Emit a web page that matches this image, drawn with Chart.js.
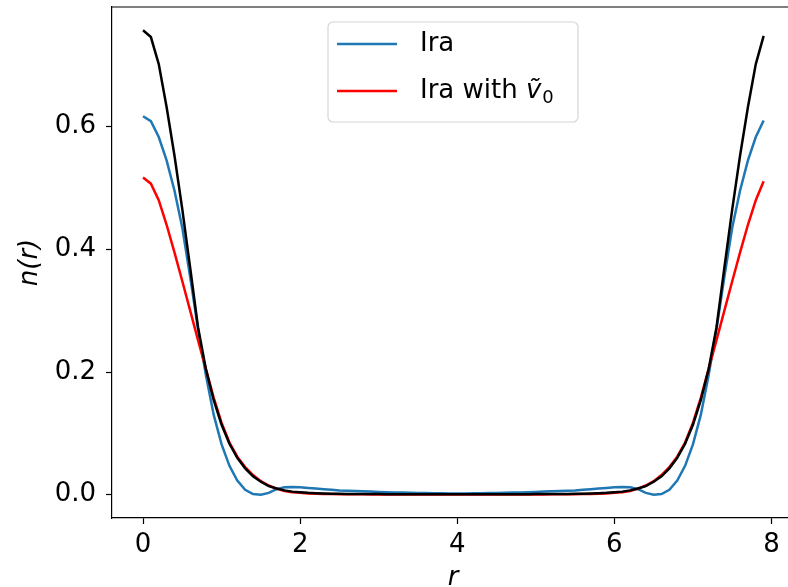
<!DOCTYPE html>
<html>
<head>
<meta charset="utf-8">
<script src="https://cdn.jsdelivr.net/npm/chart.js@4/dist/chart.umd.min.js"></script>
<style>
    html, body { margin: 0; padding: 0; background: #fff; }
    #chart { display: block; }
</style>
</head>
<body>
<canvas id="chart" width="788" height="587"></canvas>
<script>
// radial grid (x axis)
const r = [
    0.0, 0.1, 0.2, 0.3, 0.4, 0.5, 0.6, 0.7, 0.8, 0.9,
    1.0, 1.1, 1.2, 1.3, 1.4, 1.5, 1.6, 1.7, 1.8, 1.9,
    2.0, 2.1, 2.2, 2.3, 2.4, 2.5, 2.6, 2.7, 2.8, 2.9,
    3.0, 3.1, 3.2, 3.3, 3.4, 3.5, 3.6, 3.7, 3.8, 3.9,
    4.0, 4.1, 4.2, 4.3, 4.4, 4.5, 4.6, 4.7, 4.8, 4.9,
    5.0, 5.1, 5.2, 5.3, 5.4, 5.5, 5.6, 5.7, 5.8, 5.9,
    6.0, 6.1, 6.2, 6.3, 6.4, 6.5, 6.6, 6.7, 6.8, 6.9,
    7.0, 7.1, 7.2, 7.3, 7.4, 7.5, 7.6, 7.7, 7.8, 7.9
];

// n(r) for "Ira"
const nIra = [
    0.617, 0.609, 0.583, 0.545, 0.496, 0.435, 0.355, 0.270, 0.195, 0.130,
    0.082, 0.047, 0.023, 0.008, 0.001, 0.000, 0.003, 0.009, 0.012, 0.0125,
    0.012, 0.011, 0.010, 0.009, 0.008, 0.007, 0.0065, 0.006, 0.0055, 0.005,
    0.0045, 0.004, 0.0037, 0.0034, 0.0031, 0.0028, 0.0026, 0.0024, 0.0022, 0.0021,
    0.002, 0.0021, 0.0022, 0.0024, 0.0026, 0.0028, 0.0031, 0.0034, 0.0037, 0.004,
    0.0045, 0.005, 0.0055, 0.006, 0.0065, 0.007, 0.008, 0.009, 0.010, 0.011,
    0.012, 0.0125, 0.012, 0.009, 0.003, 0.000, 0.001, 0.008, 0.023, 0.047,
    0.082, 0.130, 0.195, 0.270, 0.355, 0.435, 0.496, 0.545, 0.583, 0.610
];

// n(r) for "Ira with v0~"
const nIraV0 = [
    0.517, 0.507, 0.480, 0.440, 0.395, 0.348, 0.300, 0.252, 0.205, 0.158,
    0.117, 0.085, 0.062, 0.045, 0.032, 0.022, 0.015, 0.010, 0.006, 0.004,
    0.003, 0.002, 0.0015, 0.0012, 0.001, 0.0009, 0.0008, 0.0007, 0.0006, 0.0005,
    0.0005, 0.0004, 0.0004, 0.0004, 0.0003, 0.0003, 0.0003, 0.0003, 0.0003, 0.0003,
    0.0003, 0.0003, 0.0003, 0.0003, 0.0003, 0.0003, 0.0003, 0.0004, 0.0004, 0.0004,
    0.0005, 0.0005, 0.0006, 0.0007, 0.0008, 0.0009, 0.001, 0.0012, 0.0015, 0.002,
    0.003, 0.004, 0.006, 0.010, 0.015, 0.022, 0.032, 0.045, 0.062, 0.085,
    0.117, 0.158, 0.205, 0.252, 0.300, 0.348, 0.395, 0.440, 0.480, 0.511
];

// reference (black, no legend entry)
const nRef = [
    0.757, 0.746, 0.702, 0.632, 0.553, 0.465, 0.370, 0.273, 0.205, 0.154,
    0.114, 0.083, 0.060, 0.043, 0.030, 0.021, 0.014, 0.010, 0.007, 0.005,
    0.004, 0.003, 0.0025, 0.002, 0.0017, 0.0015, 0.0013, 0.0012, 0.0011, 0.0010,
    0.0010, 0.0009, 0.0009, 0.0008, 0.0008, 0.0008, 0.0007, 0.0007, 0.0007, 0.0007,
    0.0007, 0.0007, 0.0007, 0.0007, 0.0007, 0.0008, 0.0008, 0.0008, 0.0009, 0.0009,
    0.0010, 0.0010, 0.0011, 0.0012, 0.0013, 0.0015, 0.0017, 0.002, 0.0025, 0.003,
    0.004, 0.005, 0.007, 0.010, 0.014, 0.021, 0.030, 0.043, 0.060, 0.083,
    0.114, 0.154, 0.205, 0.273, 0.370, 0.465, 0.553, 0.632, 0.702, 0.748
];

const xTicks = [0, 2, 4, 6, 8];
const yTicks = [0.0, 0.2, 0.4, 0.6];

const FONT = 'DejaVu Sans';
const FONT_SIZE = 26;

function toPoints(ys) {
    return r.map((x, i) => ({ x: x, y: ys[i] }));
}

function noEdgePadding(s) {
    s.paddingTop = 0;
    s.paddingBottom = 0;
    s.paddingLeft = 0;
    s.paddingRight = 0;
}

// top spine, axis titles and the legend box (drawn like matplotlib)
const decorations = {
    id: 'decorations',
    afterDraw(chart) {
        const ctx = chart.ctx;
        const area = chart.chartArea;
        ctx.save();

        // top spine
        ctx.strokeStyle = '#000';
        ctx.lineWidth = 1.2;
        ctx.beginPath();
        ctx.moveTo(area.left, area.top);
        ctx.lineTo(chart.width, area.top);
        ctx.stroke();

        // y title
        ctx.fillStyle = '#000';
        ctx.font = 'italic ' + FONT_SIZE + 'px "' + FONT + '"';
        ctx.textAlign = 'center';
        ctx.textBaseline = 'middle';
        ctx.save();
        ctx.translate(30, (area.top + area.bottom) / 2);
        ctx.rotate(-Math.PI / 2);
        ctx.fillText('n(r)', 0, 0);
        ctx.restore();

        // x title
        ctx.textBaseline = 'top';
        ctx.fillText('r', 453, 565);

        // legend
        const lx = 328, ly = 22, lw = 250, lh = 100, rad = 5;
        ctx.fillStyle = 'rgba(255,255,255,0.8)';
        ctx.strokeStyle = '#d6d6d6';
        ctx.lineWidth = 1.2;
        ctx.beginPath();
        ctx.roundRect(lx, ly, lw, lh, rad);
        ctx.fill();
        ctx.stroke();

        const rows = [
            { color: '#1f77b4', y: 44 },
            { color: '#ff0000', y: 91 }
        ];
        rows.forEach(row => {
            ctx.strokeStyle = row.color;
            ctx.lineWidth = 2.5;
            ctx.beginPath();
            ctx.moveTo(337, row.y);
            ctx.lineTo(397, row.y);
            ctx.stroke();
        });

        ctx.fillStyle = '#000';
        ctx.textAlign = 'left';
        ctx.textBaseline = 'middle';
        ctx.font = FONT_SIZE + 'px "' + FONT + '"';
        ctx.fillText('Ira', 420, 44);
        const pre = 'Ira with ';
        ctx.fillText(pre, 420, 91);
        let tx = 420 + ctx.measureText(pre).width;
        ctx.font = 'italic ' + FONT_SIZE + 'px "' + FONT + '"';
        ctx.fillText('v\u0303', tx, 91);
        tx += ctx.measureText('v').width + 1;
        ctx.font = Math.round(FONT_SIZE * 0.7) + 'px "' + FONT + '"';
        ctx.fillText('0', tx, 98);

        ctx.restore();
    }
};

new Chart(document.getElementById('chart'), {
    type: 'line',
    data: {
        datasets: [
            { label: 'Ira', data: toPoints(nIra), borderColor: '#1f77b4', borderWidth: 2.5, order: 2 },
            { label: 'Ira with v0', data: toPoints(nIraV0), borderColor: '#ff0000', borderWidth: 2.5, order: 1 },
            { label: 'ref', data: toPoints(nRef), borderColor: '#000000', borderWidth: 2.5, order: 0 }
        ]
    },
    options: {
        responsive: false,
        animation: false,
        devicePixelRatio: 1,
        elements: {
            point: { radius: 0 },
            line: { tension: 0, fill: false }
        },
        layout: { padding: { top: 7, right: 0, left: 0, bottom: 0 } },
        plugins: {
            legend: { display: false },
            tooltip: { enabled: false }
        },
        scales: {
            x: {
                type: 'linear',
                min: -0.395,
                max: 8.21,
                afterBuildTicks: s => { s.ticks = xTicks.map(v => ({ value: v })); },
                afterFit: s => { s.height = 69; noEdgePadding(s); },
                ticks: {
                    color: '#000',
                    font: { family: FONT, size: FONT_SIZE },
                    padding: 6,
                    maxRotation: 0,
                    callback: v => String(v)
                },
                grid: { drawOnChartArea: false, drawTicks: true, tickLength: 6, tickColor: '#000', tickWidth: 1.2 },
                border: { display: true, color: '#000', width: 1.2 }
            },
            y: {
                type: 'linear',
                min: -0.038,
                max: 0.795,
                afterBuildTicks: s => { s.ticks = yTicks.map(v => ({ value: v })); },
                afterFit: s => { s.width = 112; noEdgePadding(s); },
                ticks: {
                    color: '#000',
                    font: { family: FONT, size: FONT_SIZE },
                    padding: 10,
                    callback: v => v.toFixed(1)
                },
                grid: { drawOnChartArea: false, drawTicks: true, tickLength: 6, tickColor: '#000', tickWidth: 1.2 },
                border: { display: true, color: '#000', width: 1.2 }
            }
        }
    },
    plugins: [decorations]
});
</script>
</body>
</html>
